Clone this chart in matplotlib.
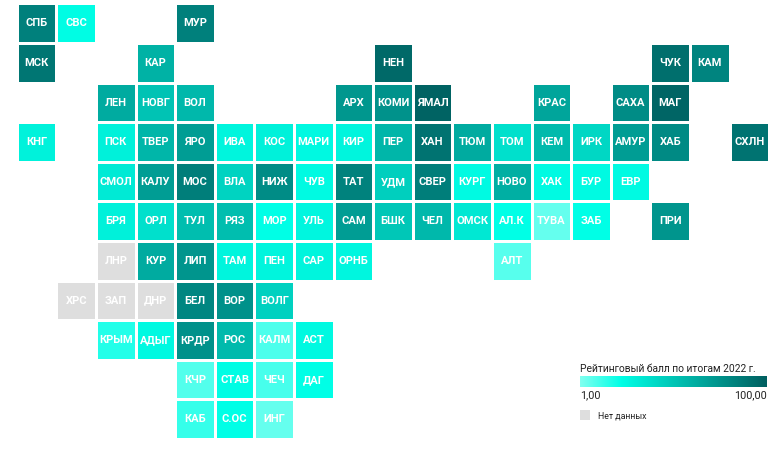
import matplotlib
matplotlib.use('Agg')
import matplotlib.pyplot as plt
import numpy as np
from matplotlib.colors import LinearSegmentedColormap

plt.rcParams['font.family'] = ['Roboto', 'DejaVu Sans']

# tile map rows, top to bottom; '' means no tile
row_labels = [
    ['СПБ', 'СВС', '', '', 'МУР', '', '', '', '', '', '', '', '', '', '', '', '', '', ''],
    ['МСК', '', '', 'КАР', '', '', '', '', '', 'НЕН', '', '', '', '', '', '', 'ЧУК', 'КАМ', ''],
    ['', '', 'ЛЕН', 'НОВГ', 'ВОЛ', '', '', '', 'АРХ', 'КОМИ', 'ЯМАЛ', '', '', 'КРАС', '', 'САХА', 'МАГ', '', ''],
    ['КНГ', '', 'ПСК', 'ТВЕР', 'ЯРО', 'ИВА', 'КОС', 'МАРИ', 'КИР', 'ПЕР', 'ХАН', 'ТЮМ', 'ТОМ', 'КЕМ', 'ИРК', 'АМУР', 'ХАБ', '', 'СХЛН'],
    ['', '', 'СМОЛ', 'КАЛУ', 'МОС', 'ВЛА', 'НИЖ', 'ЧУВ', 'ТАТ', 'УДМ', 'СВЕР', 'КУРГ', 'НОВО', 'ХАК', 'БУР', 'ЕВР', '', '', ''],
    ['', '', 'БРЯ', 'ОРЛ', 'ТУЛ', 'РЯЗ', 'МОР', 'УЛЬ', 'САМ', 'БШК', 'ЧЕЛ', 'ОМСК', 'АЛ.К', 'ТУВА', 'ЗАБ', '', 'ПРИ', '', ''],
    ['', '', 'ЛНР', 'КУР', 'ЛИП', 'ТАМ', 'ПЕН', 'САР', 'ОРНБ', '', '', '', 'АЛТ', '', '', '', '', '', ''],
    ['', 'ХРС', 'ЗАП', 'ДНР', 'БЕЛ', 'ВОР', 'ВОЛГ', '', '', '', '', '', '', '', '', '', '', '', ''],
    ['', '', 'КРЫМ', 'АДЫГ', 'КРДР', 'РОС', 'КАЛМ', 'АСТ', '', '', '', '', '', '', '', '', '', '', ''],
    ['', '', '', '', 'КЧР', 'СТАВ', 'ЧЕЧ', 'ДАГ', '', '', '', '', '', '', '', '', '', '', ''],
    ['', '', '', '', 'КАБ', 'С.ОС', 'ИНГ', '', '', '', '', '', '', '', '', '', '', '', ''],
]

# rating by region, estimated from the tile colour
scores = {
    'СПБ': 84, 'СВС': 24, 'МУР': 84, 'МСК': 89, 'КАР': 60, 'НЕН': 95, 'ЧУК': 92, 'КАМ': 82,
    'ЛЕН': 63, 'НОВГ': 52, 'ВОЛ': 57, 'АРХ': 73, 'КОМИ': 75, 'ЯМАЛ': 98, 'КРАС': 66,
    'САХА': 78, 'МАГ': 97, 'КНГ': 29, 'ПСК': 30, 'ТВЕР': 58, 'ЯРО': 70, 'ИВА': 28, 'КОС': 30,
    'МАРИ': 26, 'КИР': 28, 'ПЕР': 58, 'ХАН': 90, 'ТЮМ': 63, 'ТОМ': 38, 'КЕМ': 56, 'ИРК': 42,
    'АМУР': 70, 'ХАБ': 79, 'СХЛН': 90, 'СМОЛ': 33, 'КАЛУ': 70, 'МОС': 85, 'ВЛА': 44, 'НИЖ': 78,
    'ЧУВ': 25, 'ТАТ': 83, 'УДМ': 46, 'СВЕР': 85, 'КУРГ': 25, 'НОВО': 61, 'ХАК': 25, 'БУР': 25,
    'ЕВР': 25, 'БРЯ': 30, 'ОРЛ': 38, 'ТУЛ': 54, 'РЯЗ': 54, 'МОР': 23, 'УЛЬ': 27, 'САМ': 70,
    'БШК': 50, 'ЧЕЛ': 57, 'ОМСК': 34, 'АЛ.К': 23, 'ТУВА': 6, 'ЗАБ': 23, 'ПРИ': 74,
    'КУР': 63, 'ЛИП': 74, 'ТАМ': 28, 'ПЕН': 28, 'САР': 28, 'ОРНБ': 27, 'АЛТ': 8,
    'БЕЛ': 81, 'ВОР': 76, 'ВОЛГ': 45, 'КРЫМ': 17, 'АДЫГ': 26, 'КРДР': 76, 'РОС': 56,
    'КАЛМ': 10, 'АСТ': 26, 'КЧР': 9, 'СТАВ': 24, 'ЧЕЧ': 11, 'ДАГ': 23, 'КАБ': 14, 'С.ОС': 23,
    'ИНГ': 6,
}
no_data = ['ЛНР', 'ХРС', 'ЗАП', 'ДНР']

legend_title = 'Рейтинговый балл по итогам 2022 г.'
legend_min = '1,00'
legend_max = '100,00'
no_data_label = 'Нет данных'

cmap = LinearSegmentedColormap.from_list('rating', [(0, '#80fff0'), (0.22, '#00ffe6'), (1, '#005f60')])

values = np.array([[scores.get(name, np.nan) for name in row] for row in row_labels], dtype=float)
missing = np.array([[1.0 if name in no_data else np.nan for name in row] for row in row_labels])

fig = plt.figure(figsize=(7.84, 4.64), dpi=100)
ax = fig.add_axes([16.8 / 784, 1 - 440 / 464, 39.6 * 19 / 784, 39.6 * 11 / 464])
ax.pcolormesh(np.ma.masked_invalid(values), cmap=cmap, vmin=1, vmax=100, edgecolors='white', linewidth=0.75)
ax.pcolormesh(np.ma.masked_invalid(missing), cmap=LinearSegmentedColormap.from_list('nd', ['#dedede', '#dedede']),
              edgecolors='white', linewidth=0.75)
ax.set_xlim(0, 19)
ax.set_ylim(11, 0)
ax.axis('off')

for r, row in enumerate(row_labels):
    for c, name in enumerate(row):
        if name:
            ax.text(c + 0.5, r + 0.48, name, color='white', fontsize=8, fontweight='bold',
                    ha='center', va='center')

# legend, placed in figure pixels
cax = fig.add_axes([580 / 784, 1 - 388 / 464, 187 / 784, 11 / 464])
cax.imshow(np.linspace(0, 1, 256)[None, :], aspect='auto', cmap=cmap)
cax.axis('off')

fig.text(580 / 784, 1 - 369 / 464, legend_title, fontsize=7.4, color='#222222', va='center', ha='left')
fig.text(580 / 784, 1 - 395.5 / 464, legend_min, fontsize=7.8, color='#222222', va='center', ha='left')
fig.text(767 / 784, 1 - 395.5 / 464, legend_max, fontsize=7.8, color='#222222', va='center', ha='right')

nax = fig.add_axes([580 / 784, 1 - 421 / 464, 10 / 784, 10 / 464])
nax.set_facecolor('#dedede')
nax.set_xticks([])
nax.set_yticks([])
for spine in nax.spines.values():
    spine.set_visible(False)
fig.text(597.5 / 784, 1 - 416.5 / 464, no_data_label, fontsize=6.3, color='#222222', va='center', ha='left')

fig.savefig('out.png', dpi=100)
